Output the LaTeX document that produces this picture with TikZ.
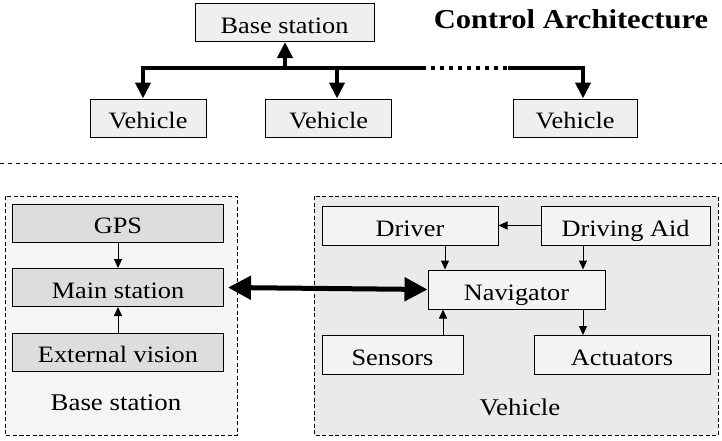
\documentclass[tikz,border=0pt]{standalone}
\usepackage{fontspec}
\setmainfont[FakeStretch=1.12]{Liberation Serif}
\usetikzlibrary{arrows.meta}

\definecolor{topfill}{HTML}{EFEFEF}
\definecolor{leftbg}{HTML}{F5F5F5}
\definecolor{leftbox}{HTML}{DDDDDD}
\definecolor{rightbg}{HTML}{EAEAEA}
\definecolor{rightbox}{HTML}{F3F3F3}

\tikzset{
  box/.style={draw, line width=1pt, rectangle, inner sep=0pt,
    text height=21pt, text depth=0pt,
    font=\fontsize{23.5}{26}\selectfont},
  topbox/.style={box, fill=topfill},
  lbox/.style={box, fill=leftbox, minimum width=211pt, minimum height=38pt},
  rbox/.style={box, fill=rightbox, minimum height=39pt},
  group/.style={draw, line width=0.9pt, dash pattern=on 4pt off 2.5pt},
  lbl/.style={font=\fontsize{24}{28}\selectfont},
  arr/.style={line width=1pt, -{Triangle[length=9pt,width=8pt]}},
  busline/.style={line width=4pt},
  busarr/.style={line width=4pt, -{Triangle[length=16pt,width=15pt]}},
  linkarr/.style={line width=5pt, {Triangle[length=23pt,width=23pt]}-{Triangle[length=23pt,width=23pt]}},
}

\begin{document}
\begin{tikzpicture}[x=1pt, y=-1pt]
\useasboundingbox (0,0) rectangle (722,440);

% ---- upper part: base station and vehicles ----
\node[topbox, minimum width=179pt, minimum height=38pt] (bs) at (284.5,22.5) {Base station};
\node[font=\fontsize{27.3}{32}\selectfont\bfseries] (title) at (571,19) {Control Architecture};

\node[topbox, minimum width=116pt, minimum height=38pt] (v1) at (148,118) {Vehicle};
\node[topbox, minimum width=126pt, minimum height=38pt] (v2) at (328.5,118) {Vehicle};
\node[topbox, minimum width=124pt, minimum height=38pt] (v3) at (575,118) {Vehicle};

\coordinate (busL)  at (143,68);
\coordinate (busM)  at (285,68);
\coordinate (busD1) at (422,68);
\coordinate (busD2) at (508,68);
\coordinate (busR)  at (583,68);

\draw[busline] (busL) -- (busD1);
\draw[busline, dash pattern=on 4pt off 5pt] (busD1) -- (busD2);
\draw[busline] (busD2) -- (busR);
\draw[busarr] (busM) -- (busM |- bs.south);
\draw[busarr] ([xshift=-2pt]busL) -- (busL) -- (busL |- v1.north);
\draw[busarr] (busM -| 337,0) -- (v2.north -| 337,0);
\draw[busarr] ([xshift=-2pt]busR) -- (busR) -- (busR |- v3.north);

% ---- separator ----
\coordinate (sepL) at (0,163);
\coordinate (sepR) at (722,163);
\draw[line width=1pt, dash pattern=on 4pt off 4pt] (sepL) -- (sepR);

% ---- base station detail ----
\path[group, fill=leftbg] (5,196) rectangle (237,435);
\node[lbox] (gps) at (118,223) {GPS};
\node[lbox] (main) at (118,287.5) {Main station};
\node[lbox] (ext) at (118,352) {External vision};
\node[lbl] (bslbl) at (116,403) {Base station};
\draw[arr] (gps) -- (main);
\draw[arr] (ext) -- (main);

% ---- vehicle detail ----
\path[group, fill=rightbg] (314,196) rectangle (718,435);
\node[rbox, minimum width=176pt] (drv) at (410,225.5) {Driver};
\node[rbox, minimum width=169pt] (aid) at (625.5,225.5) {Driving Aid};
\node[rbox, minimum width=177pt] (nav) at (516.5,289.5) {Navigator};
\node[rbox, minimum width=141pt] (sen) at (392.5,355) {Sensors};
\node[rbox, minimum width=176pt] (act) at (622,355) {Actuators};
\node[lbl] (vlbl) at (520,407) {Vehicle};

\draw[arr] (aid) -- (drv);
\draw[arr] (drv.south -| 445,0) -- (nav.north -| 445,0);
\draw[arr] (aid.south -| 583,0) -- (nav.north -| 583,0);
\draw[arr] (sen.north -| 443,0) -- (nav.south -| 443,0);
\draw[arr] (nav.south -| 583,0) -- (act.north -| 583,0);

% ---- link between base station and vehicle ----
\draw[linkarr] ([xshift=4pt]main.east) -- (nav.west);
\end{tikzpicture}
\end{document}
